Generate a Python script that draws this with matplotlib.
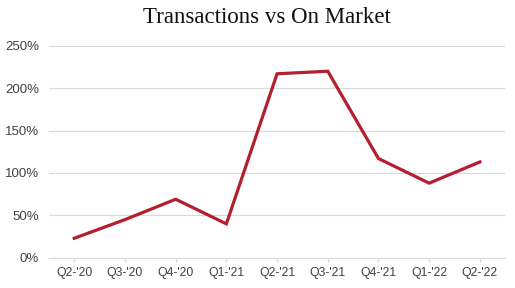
import matplotlib.pyplot as plt
from matplotlib.ticker import FuncFormatter

quarters = ["Q2-'20", "Q3-'20", "Q4-'20", "Q1-'21", "Q2-'21",
            "Q3-'21", "Q4-'21", "Q1-'22", "Q2-'22"]
ratio_pct = [23, 45, 69, 40, 217, 220, 117, 88, 113]
y_ticks = [0, 50, 100, 150, 200, 250]

fig = plt.figure(figsize=(5.15, 2.88), dpi=100)
ax = fig.add_axes([0.095, 0.105, 0.886, 0.736])

x = list(range(len(quarters)))
ax.plot(x, ratio_pct, color="#B31F2E", linewidth=2.3, solid_joinstyle="miter", zorder=3)

ax.set_xlim(-0.5, len(quarters) - 0.5)
ax.set_ylim(0, 250)
ax.set_yticks(y_ticks)
ax.yaxis.set_major_formatter(FuncFormatter(lambda v, _: f"{v:.0f}%"))
ax.set_xticks(x)
ax.set_xticklabels(quarters)

ax.grid(axis="y", color="#d9d9d9", linewidth=0.8)
ax.set_axisbelow(True)
for side in ["top", "right", "left"]:
    ax.spines[side].set_visible(False)
ax.spines["bottom"].set_color("#d9d9d9")
ax.spines["bottom"].set_linewidth(0.8)

ax.tick_params(axis="y", length=0, pad=7, labelsize=9.5, labelcolor="#404040")
ax.tick_params(axis="x", length=3, color="#d9d9d9", pad=4, labelsize=8.8, labelcolor="#404040")
for lbl in ax.get_xticklabels() + ax.get_yticklabels():
    lbl.set_family("Liberation Sans")

fig.text(0.519, 0.94, "Transactions vs On Market", ha="center", va="center",
         family="Liberation Serif", fontsize=16.5, color="#111111")

fig.savefig("out.png", dpi=100)
